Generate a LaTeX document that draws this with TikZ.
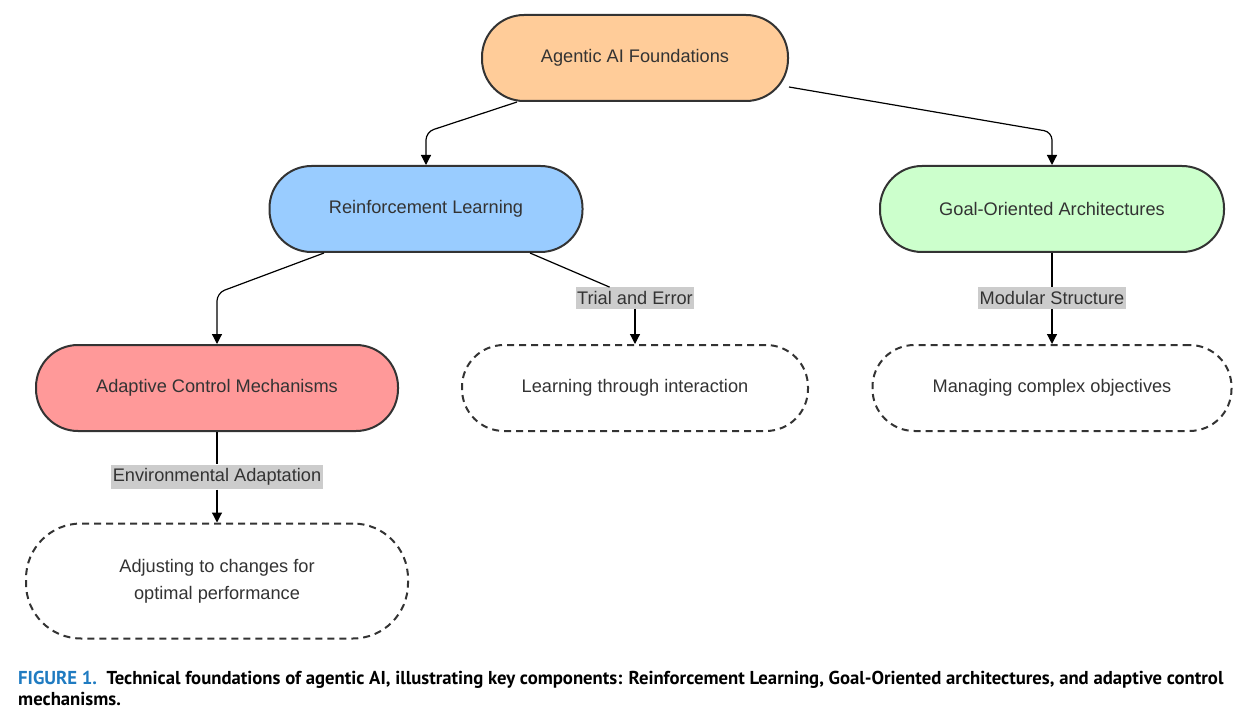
\documentclass[tikz,border=0pt]{standalone}
\usepackage{fontspec}
\setmainfont{Liberation Sans}
\newfontfamily\capfont{PT Sans}
\usepackage{xcolor}
\usetikzlibrary{positioning, arrows.meta}
\definecolor{topfill}{HTML}{FFCC99}
\definecolor{rlfill}{HTML}{99CCFF}
\definecolor{goalfill}{HTML}{CCFFCC}
\definecolor{adaptfill}{HTML}{FF9999}
\definecolor{ink}{HTML}{333333}
\definecolor{tagfill}{HTML}{CCCCCC}
\definecolor{capblue}{HTML}{1F7BC1}

\begin{document}
\begin{tikzpicture}[x=1pt, y=-1pt,
    pill/.style={draw=ink, line width=2pt, rounded corners=42pt, minimum height=86pt,
      text=ink, font=\fontsize{18.2}{27}\selectfont},
    ghost/.style={pill, fill=white, dash pattern=on 7pt off 5pt},
    tag/.style={fill=tagfill, text=ink, inner xsep=1.5pt, inner ysep=4pt, font=\fontsize{18.2}{20}\selectfont},
    link/.style={line width=1.2pt, -{Triangle[length=10pt, width=10pt]}, rounded corners=8pt},
    plain/.style={line width=1.2pt}]
            \useasboundingbox (0,0) rectangle (1259,722);

            %Nodes
            \node[pill, fill=topfill, minimum width=306pt] at (635,58) (top) {Agentic AI Foundations};
            \node[pill, fill=rlfill, minimum width=313pt] at (426,209) (rl) {Reinforcement Learning};
            \node[pill, fill=goalfill, minimum width=344pt] at (1052,209) (goal) {Goal-Oriented Architectures};
            \node[pill, fill=adaptfill, minimum width=362pt] at (217,388) (adapt) {Adaptive Control Mechanisms};
            \node[ghost, minimum width=346pt] at (635,388) (learn) {Learning through interaction};
            \node[ghost, minimum width=359pt] at (1052,388) (manage) {Managing complex objectives};
            \node[ghost, minimum width=382pt, minimum height=115pt, rounded corners=55pt,
              align=center] at (217,581) (adjust) {Adjusting to changes for\\optimal performance};

            %Labels
            \node[tag] at (635,298) (trial) {Trial and Error};
            \node[tag] at (1052,298) (modular) {Modular Structure};
            \node[tag] at (217,477) (env) {Environmental Adaptation};

            %Lines
            \draw[link] ([xshift=-118pt]top.south) -- ([yshift=33pt]rl.north) -- (rl.north);
            \draw[link] ([yshift=-29pt]top.east) -- ([yshift=33pt]goal.north) -- (goal.north);
            \draw[link] ([xshift=-102pt]rl.south) -- ([yshift=51pt]adapt.north) -- (adapt.north);
            \draw[plain] ([xshift=104pt]rl.south) -- (trial);
            \draw[link] (trial) -- (learn.north);
            \draw[plain] (goal.south) -- (modular);
            \draw[link] (modular) -- (manage.north);
            \draw[plain] (adapt.south) -- (env);
            \draw[link] (env) -- (adjust.north);

            %Caption
            \node[anchor=north west, align=left, inner sep=0pt,
              font=\capfont\bfseries\fontsize{18.7}{21}\selectfont] at (18,671) (cap)
              {\textcolor{capblue}{FIGURE 1.}\ \ Technical foundations of agentic AI, illustrating key components: Reinforcement Learning, Goal-Oriented architectures, and adaptive control\\mechanisms.};
        \end{tikzpicture}
\end{document}
